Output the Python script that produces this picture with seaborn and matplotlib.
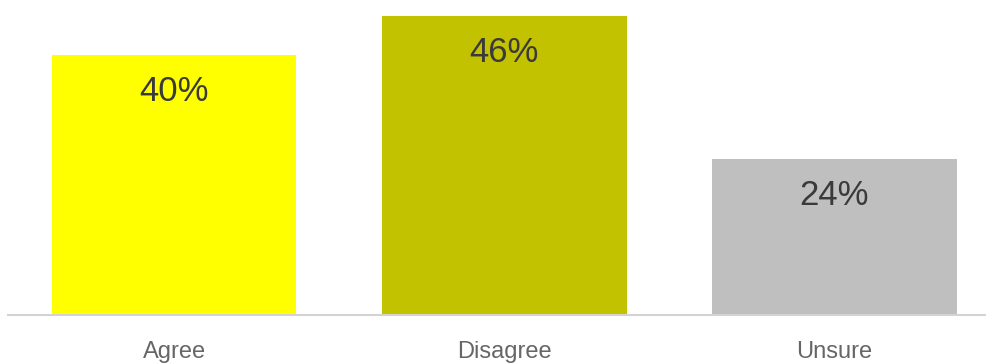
import matplotlib
matplotlib.use("Agg")
import matplotlib.pyplot as plt
import seaborn as sns
import pandas as pd

categories = ["Agree", "Disagree", "Unsure"]
shares = [40, 46, 24]
bar_colors = ["#FFFF00", "#C2C200", "#BFBFBF"]

df = pd.DataFrame({"response": categories, "share": shares})

sns.set_theme(style="white")
plt.rcParams["font.family"] = ["Liberation Sans", "DejaVu Sans"]

fig = plt.figure(figsize=(9.86, 3.63), dpi=100)
ax = fig.add_axes([8 / 986, 48 / 363, 978 / 986, 315 / 363])

sns.barplot(data=df, x="response", y="share", hue="response",
            palette=bar_colors, width=0.742, legend=False, ax=ax,
            saturation=1, linewidth=0)

ax.set_xlim(-0.503, 2.46)
ax.set_ylim(0, 48.46)

for i, v in enumerate(shares):
    ax.text(i, v - 5.6, f"{v}%", ha="center", va="center",
            fontsize=25, color="#3a3a3a")

for s in ["top", "right", "left"]:
    ax.spines[s].set_visible(False)
ax.spines["bottom"].set_color("#d3d3d3")
ax.spines["bottom"].set_linewidth(1.5)

ax.set_yticks([])
ax.set_xlabel("")
ax.set_ylabel("")
ax.tick_params(axis="x", length=0, pad=19, labelsize=17, labelcolor="#666666")

fig.savefig("out.png", dpi=100, facecolor="white")
